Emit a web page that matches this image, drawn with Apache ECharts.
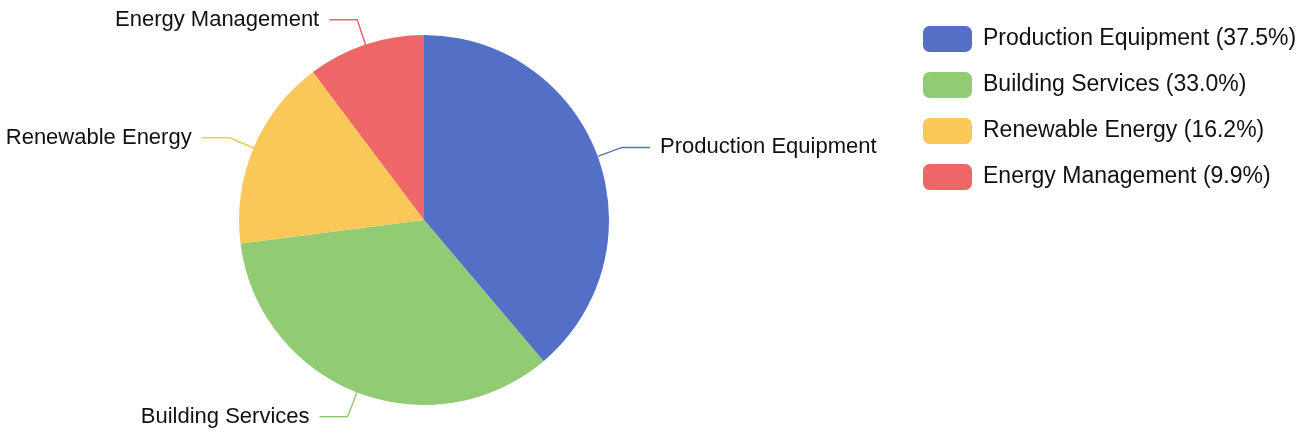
<!DOCTYPE html>
<html>
<head>
<meta charset="utf-8">
<script src="https://cdn.jsdelivr.net/npm/echarts@6/dist/echarts.min.js"></script>
<style>
  html, body { margin: 0; padding: 0; background: #ffffff; }
  #chart { width: 1312px; height: 439px; }
</style>
</head>
<body>
<div id="chart"></div>
<script>
// Energy investment split by category
const categories = ['Production Equipment', 'Building Services', 'Renewable Energy', 'Energy Management'];
const shares = [37.5, 33.0, 16.2, 9.9];
const palette = ['#5470c6', '#91cc75', '#fac858', '#ee6666'];

const FONT = 'Helvetica, Arial, "Liberation Sans", sans-serif';

const pieData = categories.map((name, i) => ({ name: name, value: shares[i] }));

const chart = echarts.init(document.getElementById('chart'), null, { renderer: 'canvas' });
chart.setOption({
  animation: false,
  color: palette,
  legend: {
    orient: 'vertical',
    left: 918,
    top: 21,
    icon: 'roundRect',
    itemWidth: 49,
    itemHeight: 26,
    itemGap: 20,
    data: categories,
    formatter: function (name) {
      const i = categories.indexOf(name);
      return name + ' (' + shares[i].toFixed(1) + '%)';
    },
    textStyle: { fontFamily: FONT, fontSize: 23, color: '#111', padding: [0, 0, 0, 6] }
  },
  series: [{
    type: 'pie',
    center: [424, 220],
    radius: [0, 185],
    startAngle: 90,
    clockwise: true,
    avoidLabelOverlap: true,
    data: pieData,
    label: {
      show: true,
      formatter: '{b}',
      fontFamily: FONT,
      fontSize: 22,
      color: '#111',
      overflow: 'none',
      edgeDistance: 0,
      distanceToLabelLine: 10
    },
    labelLine: {
      show: true,
      length: 26,
      length2: 28,
      lineStyle: { width: 1.5 }
    },
    itemStyle: { borderWidth: 0 }
  }]
});
</script>
</body>
</html>
